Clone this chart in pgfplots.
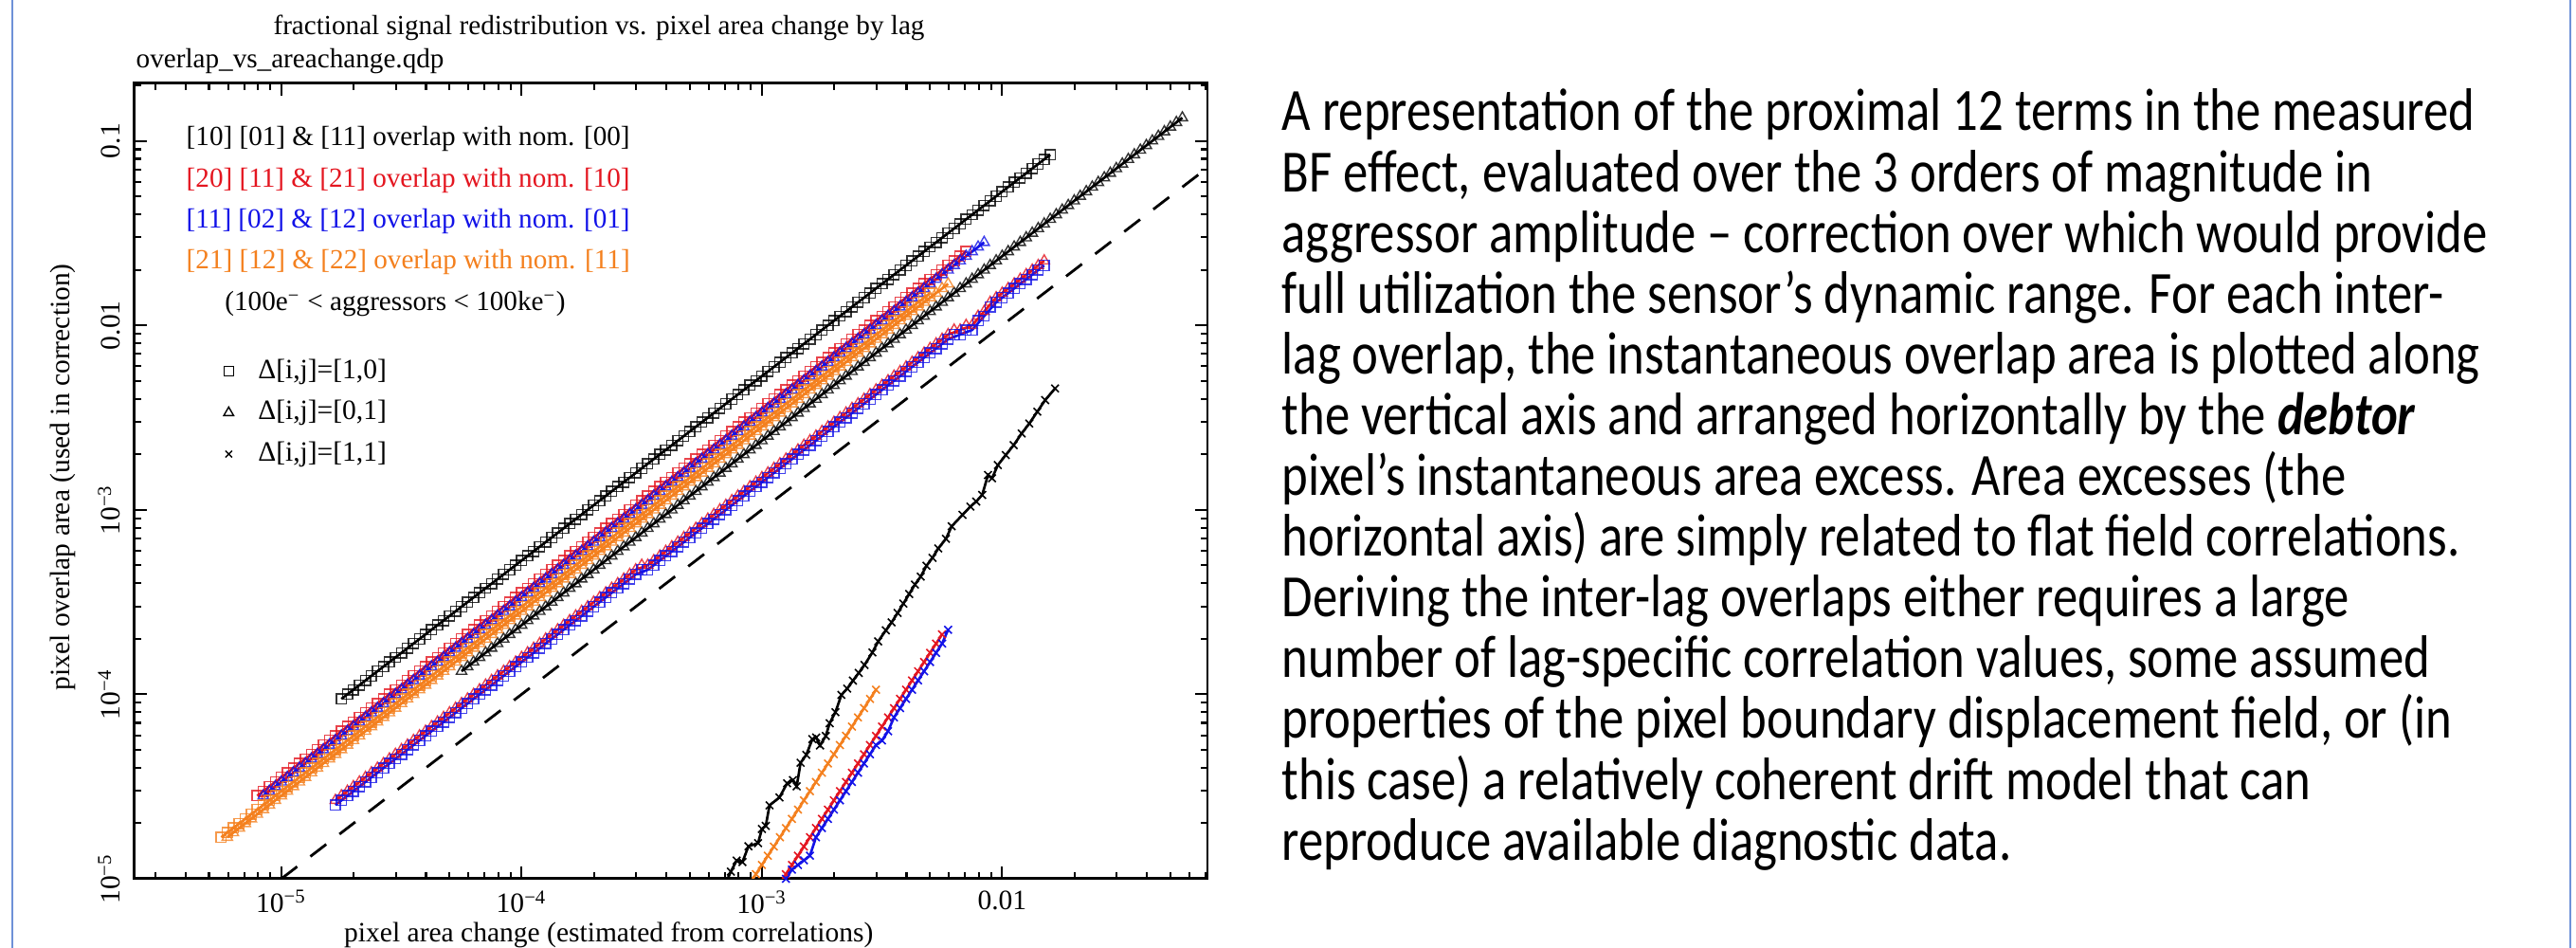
\documentclass[border=0pt]{standalone}
\usepackage{fontspec}
\setmainfont{Liberation Serif}
\newfontfamily\calibri{Carlito}
\usepackage{pgfplots}
\pgfplotsset{compat=1.18}
\definecolor{qred}{RGB}{228,22,32}
\definecolor{qblue}{RGB}{18,18,232}
\definecolor{qorange}{RGB}{244,128,30}
\definecolor{frameblue}{RGB}{110,145,215}
\pgfplotsset{
 sq/.style={line width=0.75pt, mark=square, mark size=1.5pt, mark options={solid, line width=0.4pt, opacity=0.8}},
 tri/.style={line width=0.75pt, mark=triangle, mark size=1.8pt, mark options={solid, line width=0.4pt, opacity=0.8}},
 crs/.style={line width=0.75pt, mark=x, mark size=1.6pt, mark options={solid, line width=0.45pt}},
}
\newcommand{\rt}[1]{\scalebox{1}[1.2]{#1}}
\begin{document}
\begin{tikzpicture}
\fill[white] (0,0) rectangle (27.18cm,10cm);
\path[use as bounding box] (0,0) rectangle (27.18cm,10cm);
\draw[frameblue, line width=0.6pt] (0.13cm,0) -- (0.13cm,10cm);
\draw[frameblue, line width=0.6pt] (27.12cm,0) -- (27.12cm,10cm);
\begin{axis}[
 at={(1.42cm,0.73cm)}, anchor=south west, scale only axis, width=11.32cm, height=8.39cm,
 xmode=log, ymode=log, xmin=2.45e-6, xmax=0.0715, ymin=1e-5, ymax=0.205,
 axis line style={line width=0.85pt},
 every tick/.style={black, line width=0.6pt},
 tick align=inside, tick pos=both,
 major tick length=3.6pt, minor tick length=1.9pt,
 xtick={1e-5,1e-4,1e-3,1e-2},
 xticklabels={10\textsuperscript{−5},10\textsuperscript{−4},10\textsuperscript{−3},0.01},
 minor xtick={3e-6,4e-6,5e-6,6e-6,7e-6,8e-6,9e-6,2e-5,3e-5,4e-5,5e-5,6e-5,7e-5,8e-5,9e-5,2e-4,3e-4,4e-4,5e-4,6e-4,7e-4,8e-4,9e-4,2e-3,3e-3,4e-3,5e-3,6e-3,7e-3,8e-3,9e-3,2e-2,3e-2,4e-2,5e-2,6e-2,7e-2},
 ytick={1e-5,1e-4,1e-3,1e-2,1e-1},
 yticklabels={10\textsuperscript{−5},10\textsuperscript{−4},10\textsuperscript{−3},0.01,0.1},
 minor ytick={2e-5,3e-5,4e-5,5e-5,6e-5,7e-5,8e-5,9e-5,2e-4,3e-4,4e-4,5e-4,6e-4,7e-4,8e-4,9e-4,2e-3,3e-3,4e-3,5e-3,6e-3,7e-3,8e-3,9e-3,2e-2,3e-2,4e-2,5e-2,6e-2,7e-2,8e-2,9e-2,0.2},
 tick label style={font=\fontsize{8.4pt}{9pt}\selectfont},
 yticklabel style={rotate=90, anchor=south, inner sep=0pt},
 yticklabel shift=4pt,
 xlabel={pixel area change (estimated from correlations)},
 ylabel={pixel overlap area (used in correction)},
 label style={font=\fontsize{8.4pt}{9pt}\selectfont},
 xlabel style={at={(axis description cs:0.442,-0.0787)}, anchor=base, inner sep=0pt},
 ylabel style={at={(axis description cs:-0.067,0.505)}, anchor=center, inner sep=0pt},
 legend style={at={(axis description cs:0.06,0.586)}, anchor=west, draw=none, fill=none, inner sep=0pt, row sep=2.1pt, font=\fontsize{8.4pt}{9pt}\selectfont, nodes={inner sep=1.5pt}},
 legend cell align=left,
 legend image code/.code={\path (0cm,0cm) (0.55cm,0cm); \draw[#1] plot coordinates {(0.3cm,0cm)};},
]
\addlegendimage{black, only marks, mark=square, mark size=1.4pt, mark options={line width=0.4pt}}
\addlegendentry{Δ[i,j]=[1,0]}
\addlegendimage{black, only marks, mark=triangle, mark size=1.7pt, mark options={line width=0.4pt}}
\addlegendentry{Δ[i,j]=[0,1]}
\addlegendimage{black, only marks, mark=x, mark size=1.4pt, mark options={line width=0.4pt}}
\addlegendentry{Δ[i,j]=[1,1]}

% dashed 1:1 line
\addplot[forget plot, black, line width=0.8pt, dash pattern=on 6pt off 5pt] coordinates {(1e-5,1e-5) (0.0715,0.0715)};

% black squares [1,0]
\addplot[forget plot, black, sq] coordinates {(1.778e-5,9.441e-5)(1.995e-5,1.059e-4)(2.239e-5,1.189e-4)(2.512e-5,1.334e-4)(2.818e-5,1.496e-4)(3.162e-5,1.679e-4)(3.548e-5,1.884e-4)(3.981e-5,2.113e-4)(4.467e-5,2.371e-4)(5.012e-5,2.661e-4)(5.623e-5,2.985e-4)(6.310e-5,3.350e-4)(7.079e-5,3.758e-4)(7.943e-5,4.217e-4)(8.913e-5,4.732e-4)(1.000e-4,5.309e-4)(1.122e-4,5.957e-4)(1.259e-4,6.683e-4)(1.413e-4,7.499e-4)(1.585e-4,8.414e-4)(1.778e-4,9.441e-4)(1.995e-4,1.059e-3)(2.239e-4,1.189e-3)(2.512e-4,1.334e-3)(2.818e-4,1.496e-3)(3.162e-4,1.679e-3)(3.548e-4,1.884e-3)(3.981e-4,2.113e-3)(4.467e-4,2.371e-3)(5.012e-4,2.661e-3)(5.623e-4,2.985e-3)(6.310e-4,3.350e-3)(7.079e-4,3.758e-3)(7.943e-4,4.217e-3)(8.913e-4,4.732e-3)(1.000e-3,5.309e-3)(1.122e-3,5.957e-3)(1.259e-3,6.683e-3)(1.413e-3,7.499e-3)(1.585e-3,8.414e-3)(1.778e-3,9.441e-3)(1.995e-3,1.059e-2)(2.239e-3,1.189e-2)(2.512e-3,1.334e-2)(2.818e-3,1.496e-2)(3.162e-3,1.679e-2)(3.548e-3,1.884e-2)(3.981e-3,2.113e-2)(4.467e-3,2.371e-2)(5.012e-3,2.661e-2)(5.623e-3,2.985e-2)(6.310e-3,3.350e-2)(7.079e-3,3.758e-2)(7.943e-3,4.217e-2)(8.913e-3,4.732e-2)(1.000e-2,5.309e-2)(1.122e-2,5.957e-2)(1.259e-2,6.683e-2)(1.413e-2,7.499e-2)(1.585e-2,8.414e-2)};
\addplot[forget plot, black, sq, only marks] coordinates {(1.884e-5,1.000e-4)(2.113e-5,1.122e-4)(2.371e-5,1.259e-4)(2.661e-5,1.413e-4)(2.985e-5,1.585e-4)(3.350e-5,1.778e-4)(3.758e-5,1.995e-4)(4.217e-5,2.239e-4)(4.732e-5,2.512e-4)(5.309e-5,2.818e-4)(5.957e-5,3.162e-4)(6.683e-5,3.548e-4)(7.499e-5,3.981e-4)(8.414e-5,4.467e-4)(9.441e-5,5.012e-4)(1.059e-4,5.623e-4)(1.189e-4,6.310e-4)(1.334e-4,7.079e-4)(1.496e-4,7.943e-4)(1.679e-4,8.913e-4)(1.884e-4,1.000e-3)(2.113e-4,1.122e-3)(2.371e-4,1.259e-3)(2.661e-4,1.413e-3)(2.985e-4,1.585e-3)(3.350e-4,1.778e-3)(3.758e-4,1.995e-3)(4.217e-4,2.239e-3)(4.732e-4,2.512e-3)(5.309e-4,2.818e-3)(5.957e-4,3.162e-3)(6.683e-4,3.548e-3)(7.499e-4,3.981e-3)(8.414e-4,4.467e-3)(9.441e-4,5.012e-3)(1.059e-3,5.623e-3)(1.189e-3,6.310e-3)(1.334e-3,7.079e-3)(1.496e-3,7.943e-3)(1.679e-3,8.913e-3)(1.884e-3,1.000e-2)(2.113e-3,1.122e-2)(2.371e-3,1.259e-2)(2.661e-3,1.413e-2)(2.985e-3,1.585e-2)(3.350e-3,1.778e-2)(3.758e-3,1.995e-2)(4.217e-3,2.239e-2)(4.732e-3,2.512e-2)(5.309e-3,2.818e-2)(5.957e-3,3.162e-2)(6.683e-3,3.548e-2)(7.499e-3,3.981e-2)(8.414e-3,4.467e-2)(9.441e-3,5.012e-2)(1.059e-2,5.623e-2)(1.189e-2,6.310e-2)(1.334e-2,7.079e-2)(1.496e-2,7.943e-2)};

% black triangles [0,1]
\addplot[forget plot, black, tri] coordinates {(5.623e-5,1.334e-4)(6.310e-5,1.496e-4)(7.079e-5,1.679e-4)(7.943e-5,1.884e-4)(8.913e-5,2.113e-4)(1.000e-4,2.371e-4)(1.122e-4,2.661e-4)(1.259e-4,2.985e-4)(1.413e-4,3.350e-4)(1.585e-4,3.758e-4)(1.778e-4,4.217e-4)(1.995e-4,4.732e-4)(2.239e-4,5.309e-4)(2.512e-4,5.957e-4)(2.818e-4,6.683e-4)(3.162e-4,7.499e-4)(3.548e-4,8.414e-4)(3.981e-4,9.441e-4)(4.467e-4,1.059e-3)(5.012e-4,1.189e-3)(5.623e-4,1.334e-3)(6.310e-4,1.496e-3)(7.079e-4,1.679e-3)(7.943e-4,1.884e-3)(8.913e-4,2.113e-3)(1.000e-3,2.371e-3)(1.122e-3,2.661e-3)(1.259e-3,2.985e-3)(1.413e-3,3.350e-3)(1.585e-3,3.758e-3)(1.778e-3,4.217e-3)(1.995e-3,4.732e-3)(2.239e-3,5.309e-3)(2.512e-3,5.957e-3)(2.818e-3,6.683e-3)(3.162e-3,7.499e-3)(3.548e-3,8.414e-3)(3.981e-3,9.441e-3)(4.467e-3,1.059e-2)(5.012e-3,1.189e-2)(5.623e-3,1.334e-2)(6.310e-3,1.496e-2)(7.079e-3,1.679e-2)(7.943e-3,1.884e-2)(8.913e-3,2.113e-2)(1.000e-2,2.371e-2)(1.122e-2,2.661e-2)(1.259e-2,2.985e-2)(1.413e-2,3.350e-2)(1.585e-2,3.758e-2)(1.778e-2,4.217e-2)(1.995e-2,4.732e-2)(2.239e-2,5.309e-2)(2.512e-2,5.957e-2)(2.818e-2,6.683e-2)(3.162e-2,7.499e-2)(3.548e-2,8.414e-2)(3.981e-2,9.441e-2)(4.467e-2,1.059e-1)(5.012e-2,1.189e-1)(5.623e-2,1.334e-1)};
\addplot[forget plot, black, tri, only marks] coordinates {(5.957e-5,1.413e-4)(6.683e-5,1.585e-4)(7.499e-5,1.778e-4)(8.414e-5,1.995e-4)(9.441e-5,2.239e-4)(1.059e-4,2.512e-4)(1.189e-4,2.818e-4)(1.334e-4,3.162e-4)(1.496e-4,3.548e-4)(1.679e-4,3.981e-4)(1.884e-4,4.467e-4)(2.113e-4,5.012e-4)(2.371e-4,5.623e-4)(2.661e-4,6.310e-4)(2.985e-4,7.079e-4)(3.350e-4,7.943e-4)(3.758e-4,8.913e-4)(4.217e-4,1.000e-3)(4.732e-4,1.122e-3)(5.309e-4,1.259e-3)(5.957e-4,1.413e-3)(6.683e-4,1.585e-3)(7.499e-4,1.778e-3)(8.414e-4,1.995e-3)(9.441e-4,2.239e-3)(1.059e-3,2.512e-3)(1.189e-3,2.818e-3)(1.334e-3,3.162e-3)(1.496e-3,3.548e-3)(1.679e-3,3.981e-3)(1.884e-3,4.467e-3)(2.113e-3,5.012e-3)(2.371e-3,5.623e-3)(2.661e-3,6.310e-3)(2.985e-3,7.079e-3)(3.350e-3,7.943e-3)(3.758e-3,8.913e-3)(4.217e-3,1.000e-2)(4.732e-3,1.122e-2)(5.309e-3,1.259e-2)(5.957e-3,1.413e-2)(6.683e-3,1.585e-2)(7.499e-3,1.778e-2)(8.414e-3,1.995e-2)(9.441e-3,2.239e-2)(1.059e-2,2.512e-2)(1.189e-2,2.818e-2)(1.334e-2,3.162e-2)(1.496e-2,3.548e-2)(1.679e-2,3.981e-2)(1.884e-2,4.467e-2)(2.113e-2,5.012e-2)(2.371e-2,5.623e-2)(2.661e-2,6.310e-2)(2.985e-2,7.079e-2)(3.350e-2,7.943e-2)(3.758e-2,8.913e-2)(4.217e-2,1.000e-1)(4.732e-2,1.122e-1)(5.309e-2,1.259e-1)};

% black crosses [1,1]
\addplot[forget plot, black, crs] coordinates {(6.918e-4,8.913e-6)(7.430e-4,1.094e-5)(7.852e-4,1.256e-5)(8.299e-4,1.233e-5)(8.791e-4,1.500e-5)(9.639e-4,1.560e-5)(1.000e-3,1.862e-5)(1.038e-3,1.936e-5)(1.076e-3,2.500e-5)(1.183e-3,2.761e-5)(1.274e-3,3.296e-5)(1.346e-3,3.428e-5)(1.396e-3,3.170e-5)(1.449e-3,4.256e-5)(1.531e-3,4.699e-5)(1.622e-3,5.715e-5)(1.683e-3,5.834e-5)(1.746e-3,5.284e-5)(1.845e-3,5.943e-5)(1.914e-3,6.966e-5)(2.023e-3,7.998e-5)(2.143e-3,9.931e-5)(2.265e-3,1.074e-4)(2.393e-3,1.186e-4)(2.529e-3,1.306e-4)(2.673e-3,1.442e-4)(2.884e-3,1.687e-4)(3.048e-3,1.936e-4)(3.281e-3,2.223e-4)(3.467e-3,2.455e-4)(3.673e-3,2.761e-4)(3.882e-3,3.105e-4)(4.102e-3,3.499e-4)(4.335e-3,3.936e-4)(4.581e-3,4.345e-4)(4.842e-3,4.977e-4)(5.129e-3,5.495e-4)(5.420e-3,6.180e-4)(5.834e-3,6.966e-4)(6.166e-3,8.147e-4)(6.839e-3,9.397e-4)(7.379e-3,1.042e-3)(7.798e-3,1.109e-3)(8.260e-3,1.205e-3)(8.730e-3,1.545e-3)(9.078e-3,1.483e-3)(9.594e-3,1.750e-3)(1.035e-2,1.982e-3)(1.117e-2,2.244e-3)(1.205e-2,2.594e-3)(1.297e-2,2.938e-3)(1.400e-2,3.404e-3)(1.510e-2,3.936e-3)(1.660e-2,4.550e-3)};

% red squares [1,0] (upper band)
\addplot[forget plot, qred, sq] coordinates {(7.943e-6,2.818e-5)(8.913e-6,3.162e-5)(1.000e-5,3.548e-5)(1.122e-5,3.981e-5)(1.259e-5,4.467e-5)(1.413e-5,5.012e-5)(1.585e-5,5.623e-5)(1.778e-5,6.310e-5)(1.995e-5,7.079e-5)(2.239e-5,7.943e-5)(2.512e-5,8.913e-5)(2.818e-5,1.000e-4)(3.162e-5,1.122e-4)(3.548e-5,1.259e-4)(3.981e-5,1.413e-4)(4.467e-5,1.585e-4)(5.012e-5,1.778e-4)(5.623e-5,1.995e-4)(6.310e-5,2.239e-4)(7.079e-5,2.512e-4)(7.943e-5,2.818e-4)(8.913e-5,3.162e-4)(1.000e-4,3.548e-4)(1.122e-4,3.981e-4)(1.259e-4,4.467e-4)(1.413e-4,5.012e-4)(1.585e-4,5.623e-4)(1.778e-4,6.310e-4)(1.995e-4,7.079e-4)(2.239e-4,7.943e-4)(2.512e-4,8.913e-4)(2.818e-4,1.000e-3)(3.162e-4,1.122e-3)(3.548e-4,1.259e-3)(3.981e-4,1.413e-3)(4.467e-4,1.585e-3)(5.012e-4,1.778e-3)(5.623e-4,1.995e-3)(6.310e-4,2.239e-3)(7.079e-4,2.512e-3)(7.943e-4,2.818e-3)(8.913e-4,3.162e-3)(1.000e-3,3.548e-3)(1.122e-3,3.981e-3)(1.259e-3,4.467e-3)(1.413e-3,5.012e-3)(1.585e-3,5.623e-3)(1.778e-3,6.310e-3)(1.995e-3,7.079e-3)(2.239e-3,7.943e-3)(2.512e-3,8.913e-3)(2.818e-3,1.000e-2)(3.162e-3,1.122e-2)(3.548e-3,1.259e-2)(3.981e-3,1.413e-2)(4.467e-3,1.585e-2)(5.012e-3,1.778e-2)(5.623e-3,1.995e-2)(6.310e-3,2.239e-2)(7.079e-3,2.512e-2)};
\addplot[forget plot, qred, sq, only marks] coordinates {(8.414e-6,2.985e-5)(9.441e-6,3.350e-5)(1.059e-5,3.758e-5)(1.189e-5,4.217e-5)(1.334e-5,4.732e-5)(1.496e-5,5.309e-5)(1.679e-5,5.957e-5)(1.884e-5,6.683e-5)(2.113e-5,7.499e-5)(2.371e-5,8.414e-5)(2.661e-5,9.441e-5)(2.985e-5,1.059e-4)(3.350e-5,1.189e-4)(3.758e-5,1.334e-4)(4.217e-5,1.496e-4)(4.732e-5,1.679e-4)(5.309e-5,1.884e-4)(5.957e-5,2.113e-4)(6.683e-5,2.371e-4)(7.499e-5,2.661e-4)(8.414e-5,2.985e-4)(9.441e-5,3.350e-4)(1.059e-4,3.758e-4)(1.189e-4,4.217e-4)(1.334e-4,4.732e-4)(1.496e-4,5.309e-4)(1.679e-4,5.957e-4)(1.884e-4,6.683e-4)(2.113e-4,7.499e-4)(2.371e-4,8.414e-4)(2.661e-4,9.441e-4)(2.985e-4,1.059e-3)(3.350e-4,1.189e-3)(3.758e-4,1.334e-3)(4.217e-4,1.496e-3)(4.732e-4,1.679e-3)(5.309e-4,1.884e-3)(5.957e-4,2.113e-3)(6.683e-4,2.371e-3)(7.499e-4,2.661e-3)(8.414e-4,2.985e-3)(9.441e-4,3.350e-3)(1.059e-3,3.758e-3)(1.189e-3,4.217e-3)(1.334e-3,4.732e-3)(1.496e-3,5.309e-3)(1.679e-3,5.957e-3)(1.884e-3,6.683e-3)(2.113e-3,7.499e-3)(2.371e-3,8.414e-3)(2.661e-3,9.441e-3)(2.985e-3,1.059e-2)(3.350e-3,1.189e-2)(3.758e-3,1.334e-2)(4.217e-3,1.496e-2)(4.732e-3,1.679e-2)(5.309e-3,1.884e-2)(5.957e-3,2.113e-2)(6.683e-3,2.371e-2)};

% blue triangles [0,1] (upper band)
\addplot[forget plot, qblue, tri] coordinates {(8.414e-6,2.818e-5)(9.441e-6,3.162e-5)(1.059e-5,3.548e-5)(1.189e-5,3.981e-5)(1.334e-5,4.467e-5)(1.496e-5,5.012e-5)(1.679e-5,5.623e-5)(1.884e-5,6.310e-5)(2.113e-5,7.079e-5)(2.371e-5,7.943e-5)(2.661e-5,8.913e-5)(2.985e-5,1.000e-4)(3.350e-5,1.122e-4)(3.758e-5,1.259e-4)(4.217e-5,1.413e-4)(4.732e-5,1.585e-4)(5.309e-5,1.778e-4)(5.957e-5,1.995e-4)(6.683e-5,2.239e-4)(7.499e-5,2.512e-4)(8.414e-5,2.818e-4)(9.441e-5,3.162e-4)(1.059e-4,3.548e-4)(1.189e-4,3.981e-4)(1.334e-4,4.467e-4)(1.496e-4,5.012e-4)(1.679e-4,5.623e-4)(1.884e-4,6.310e-4)(2.113e-4,7.079e-4)(2.371e-4,7.943e-4)(2.661e-4,8.913e-4)(2.985e-4,1.000e-3)(3.350e-4,1.122e-3)(3.758e-4,1.259e-3)(4.217e-4,1.413e-3)(4.732e-4,1.585e-3)(5.309e-4,1.778e-3)(5.957e-4,1.995e-3)(6.683e-4,2.239e-3)(7.499e-4,2.512e-3)(8.414e-4,2.818e-3)(9.441e-4,3.162e-3)(1.059e-3,3.548e-3)(1.189e-3,3.981e-3)(1.334e-3,4.467e-3)(1.496e-3,5.012e-3)(1.679e-3,5.623e-3)(1.884e-3,6.310e-3)(2.113e-3,7.079e-3)(2.371e-3,7.943e-3)(2.661e-3,8.913e-3)(2.985e-3,1.000e-2)(3.350e-3,1.122e-2)(3.758e-3,1.259e-2)(4.217e-3,1.413e-2)(4.732e-3,1.585e-2)(5.309e-3,1.778e-2)(5.957e-3,1.995e-2)(6.683e-3,2.239e-2)(7.499e-3,2.512e-2)(8.414e-3,2.818e-2)};
\addplot[forget plot, qblue, tri, only marks] coordinates {(8.913e-6,2.985e-5)(1.000e-5,3.350e-5)(1.122e-5,3.758e-5)(1.259e-5,4.217e-5)(1.413e-5,4.732e-5)(1.585e-5,5.309e-5)(1.778e-5,5.957e-5)(1.995e-5,6.683e-5)(2.239e-5,7.499e-5)(2.512e-5,8.414e-5)(2.818e-5,9.441e-5)(3.162e-5,1.059e-4)(3.548e-5,1.189e-4)(3.981e-5,1.334e-4)(4.467e-5,1.496e-4)(5.012e-5,1.679e-4)(5.623e-5,1.884e-4)(6.310e-5,2.113e-4)(7.079e-5,2.371e-4)(7.943e-5,2.661e-4)(8.913e-5,2.985e-4)(1.000e-4,3.350e-4)(1.122e-4,3.758e-4)(1.259e-4,4.217e-4)(1.413e-4,4.732e-4)(1.585e-4,5.309e-4)(1.778e-4,5.957e-4)(1.995e-4,6.683e-4)(2.239e-4,7.499e-4)(2.512e-4,8.414e-4)(2.818e-4,9.441e-4)(3.162e-4,1.059e-3)(3.548e-4,1.189e-3)(3.981e-4,1.334e-3)(4.467e-4,1.496e-3)(5.012e-4,1.679e-3)(5.623e-4,1.884e-3)(6.310e-4,2.113e-3)(7.079e-4,2.371e-3)(7.943e-4,2.661e-3)(8.913e-4,2.985e-3)(1.000e-3,3.350e-3)(1.122e-3,3.758e-3)(1.259e-3,4.217e-3)(1.413e-3,4.732e-3)(1.585e-3,5.309e-3)(1.778e-3,5.957e-3)(1.995e-3,6.683e-3)(2.239e-3,7.499e-3)(2.512e-3,8.414e-3)(2.818e-3,9.441e-3)(3.162e-3,1.059e-2)(3.548e-3,1.189e-2)(3.981e-3,1.334e-2)(4.467e-3,1.496e-2)(5.012e-3,1.679e-2)(5.623e-3,1.884e-2)(6.310e-3,2.113e-2)(7.079e-3,2.371e-2)(7.943e-3,2.661e-2)};

% red triangles [0,1] (lower band)
\addplot[forget plot, qred, tri] coordinates {(1.679e-5,2.661e-5)(1.884e-5,2.985e-5)(2.113e-5,3.350e-5)(2.371e-5,3.758e-5)(2.661e-5,4.217e-5)(2.985e-5,4.732e-5)(3.350e-5,5.309e-5)(3.758e-5,5.957e-5)(4.217e-5,6.683e-5)(4.732e-5,7.499e-5)(5.309e-5,8.414e-5)(5.957e-5,9.441e-5)(6.683e-5,1.059e-4)(7.499e-5,1.189e-4)(8.414e-5,1.334e-4)(9.441e-5,1.496e-4)(1.059e-4,1.679e-4)(1.189e-4,1.884e-4)(1.334e-4,2.113e-4)(1.496e-4,2.371e-4)(1.679e-4,2.661e-4)(1.884e-4,2.985e-4)(2.113e-4,3.350e-4)(2.371e-4,3.758e-4)(2.661e-4,4.217e-4)(2.985e-4,4.732e-4)(3.350e-4,5.012e-4)(3.758e-4,5.623e-4)(4.217e-4,6.310e-4)(4.732e-4,7.079e-4)(5.309e-4,7.943e-4)(5.957e-4,8.913e-4)(6.683e-4,1.000e-3)(7.499e-4,1.122e-3)(8.414e-4,1.259e-3)(9.441e-4,1.413e-3)(1.059e-3,1.585e-3)(1.189e-3,1.778e-3)(1.334e-3,1.995e-3)(1.496e-3,2.239e-3)(1.679e-3,2.512e-3)(1.884e-3,2.818e-3)(2.113e-3,3.162e-3)(2.371e-3,3.548e-3)(2.661e-3,3.981e-3)(2.985e-3,4.467e-3)(3.350e-3,5.012e-3)(3.758e-3,5.623e-3)(4.217e-3,6.310e-3)(4.732e-3,7.079e-3)(5.309e-3,7.943e-3)(5.957e-3,8.913e-3)(6.683e-3,9.441e-3)(7.499e-3,1.000e-2)(8.414e-3,1.189e-2)(9.441e-3,1.413e-2)(1.059e-2,1.585e-2)(1.189e-2,1.778e-2)(1.334e-2,1.995e-2)(1.496e-2,2.239e-2)};
\addplot[forget plot, qred, tri, only marks] coordinates {(1.778e-5,2.818e-5)(1.995e-5,3.162e-5)(2.239e-5,3.548e-5)(2.512e-5,3.981e-5)(2.818e-5,4.467e-5)(3.162e-5,5.012e-5)(3.548e-5,5.623e-5)(3.981e-5,6.310e-5)(4.467e-5,7.079e-5)(5.012e-5,7.943e-5)(5.623e-5,8.913e-5)(6.310e-5,1.000e-4)(7.079e-5,1.122e-4)(7.943e-5,1.259e-4)(8.913e-5,1.413e-4)(1.000e-4,1.585e-4)(1.122e-4,1.778e-4)(1.259e-4,1.995e-4)(1.413e-4,2.239e-4)(1.585e-4,2.512e-4)(1.778e-4,2.818e-4)(1.995e-4,3.162e-4)(2.239e-4,3.548e-4)(2.512e-4,3.981e-4)(2.818e-4,4.467e-4)(3.162e-4,5.012e-4)(3.548e-4,5.309e-4)(3.981e-4,5.957e-4)(4.467e-4,6.683e-4)(5.012e-4,7.499e-4)(5.623e-4,8.414e-4)(6.310e-4,9.441e-4)(7.079e-4,1.059e-3)(7.943e-4,1.189e-3)(8.913e-4,1.334e-3)(1.000e-3,1.496e-3)(1.122e-3,1.679e-3)(1.259e-3,1.884e-3)(1.413e-3,2.113e-3)(1.585e-3,2.371e-3)(1.778e-3,2.661e-3)(1.995e-3,2.985e-3)(2.239e-3,3.350e-3)(2.512e-3,3.758e-3)(2.818e-3,4.217e-3)(3.162e-3,4.732e-3)(3.548e-3,5.309e-3)(3.981e-3,5.957e-3)(4.467e-3,6.683e-3)(5.012e-3,7.499e-3)(5.623e-3,8.414e-3)(6.310e-3,9.441e-3)(7.079e-3,1.000e-2)(7.943e-3,1.122e-2)(8.913e-3,1.334e-2)(1.000e-2,1.496e-2)(1.122e-2,1.679e-2)(1.259e-2,1.884e-2)(1.413e-2,2.113e-2)};

% blue squares [1,0] (lower band)
\addplot[forget plot, qblue, sq] coordinates {(1.679e-5,2.512e-5)(1.884e-5,2.818e-5)(2.113e-5,3.162e-5)(2.371e-5,3.548e-5)(2.661e-5,3.981e-5)(2.985e-5,4.467e-5)(3.350e-5,5.012e-5)(3.758e-5,5.623e-5)(4.217e-5,6.310e-5)(4.732e-5,7.079e-5)(5.309e-5,7.943e-5)(5.957e-5,8.913e-5)(6.683e-5,1.000e-4)(7.499e-5,1.122e-4)(8.414e-5,1.259e-4)(9.441e-5,1.413e-4)(1.059e-4,1.585e-4)(1.189e-4,1.778e-4)(1.334e-4,1.995e-4)(1.496e-4,2.239e-4)(1.679e-4,2.512e-4)(1.884e-4,2.818e-4)(2.113e-4,3.162e-4)(2.371e-4,3.548e-4)(2.661e-4,3.981e-4)(2.985e-4,4.467e-4)(3.350e-4,4.732e-4)(3.758e-4,5.309e-4)(4.217e-4,5.957e-4)(4.732e-4,6.683e-4)(5.309e-4,7.499e-4)(5.957e-4,8.414e-4)(6.683e-4,9.441e-4)(7.499e-4,1.059e-3)(8.414e-4,1.189e-3)(9.441e-4,1.334e-3)(1.059e-3,1.496e-3)(1.189e-3,1.679e-3)(1.334e-3,1.884e-3)(1.496e-3,2.113e-3)(1.679e-3,2.371e-3)(1.884e-3,2.661e-3)(2.113e-3,2.985e-3)(2.371e-3,3.350e-3)(2.661e-3,3.758e-3)(2.985e-3,4.217e-3)(3.350e-3,4.732e-3)(3.758e-3,5.309e-3)(4.217e-3,5.957e-3)(4.732e-3,6.683e-3)(5.309e-3,7.499e-3)(5.957e-3,8.414e-3)(6.683e-3,8.913e-3)(7.499e-3,9.441e-3)(8.414e-3,1.122e-2)(9.441e-3,1.334e-2)(1.059e-2,1.496e-2)(1.189e-2,1.679e-2)(1.334e-2,1.884e-2)(1.496e-2,2.113e-2)};
\addplot[forget plot, qblue, sq, only marks] coordinates {(1.778e-5,2.661e-5)(1.995e-5,2.985e-5)(2.239e-5,3.350e-5)(2.512e-5,3.758e-5)(2.818e-5,4.217e-5)(3.162e-5,4.732e-5)(3.548e-5,5.309e-5)(3.981e-5,5.957e-5)(4.467e-5,6.683e-5)(5.012e-5,7.499e-5)(5.623e-5,8.414e-5)(6.310e-5,9.441e-5)(7.079e-5,1.059e-4)(7.943e-5,1.189e-4)(8.913e-5,1.334e-4)(1.000e-4,1.496e-4)(1.122e-4,1.679e-4)(1.259e-4,1.884e-4)(1.413e-4,2.113e-4)(1.585e-4,2.371e-4)(1.778e-4,2.661e-4)(1.995e-4,2.985e-4)(2.239e-4,3.350e-4)(2.512e-4,3.758e-4)(2.818e-4,4.217e-4)(3.162e-4,4.732e-4)(3.548e-4,5.012e-4)(3.981e-4,5.623e-4)(4.467e-4,6.310e-4)(5.012e-4,7.079e-4)(5.623e-4,7.943e-4)(6.310e-4,8.913e-4)(7.079e-4,1.000e-3)(7.943e-4,1.122e-3)(8.913e-4,1.259e-3)(1.000e-3,1.413e-3)(1.122e-3,1.585e-3)(1.259e-3,1.778e-3)(1.413e-3,1.995e-3)(1.585e-3,2.239e-3)(1.778e-3,2.512e-3)(1.995e-3,2.818e-3)(2.239e-3,3.162e-3)(2.512e-3,3.548e-3)(2.818e-3,3.981e-3)(3.162e-3,4.467e-3)(3.548e-3,5.012e-3)(3.981e-3,5.623e-3)(4.467e-3,6.310e-3)(5.012e-3,7.079e-3)(5.623e-3,7.943e-3)(6.310e-3,8.913e-3)(7.079e-3,9.441e-3)(7.943e-3,1.059e-2)(8.913e-3,1.259e-2)(1.000e-2,1.413e-2)(1.122e-2,1.585e-2)(1.259e-2,1.778e-2)(1.413e-2,1.995e-2)};

% red crosses [1,1]
\addplot[forget plot, qred, crs] coordinates {(1.189e-3,9.441e-6)(1.259e-3,1.059e-5)(1.334e-3,1.189e-5)(1.413e-3,1.334e-5)(1.496e-3,1.496e-5)(1.585e-3,1.679e-5)(1.679e-3,1.884e-5)(1.778e-3,2.113e-5)(1.884e-3,2.371e-5)(1.995e-3,2.661e-5)(2.113e-3,2.985e-5)(2.239e-3,3.350e-5)(2.371e-3,3.758e-5)(2.512e-3,4.217e-5)(2.661e-3,4.732e-5)(2.818e-3,5.309e-5)(2.985e-3,5.957e-5)(3.162e-3,6.683e-5)(3.350e-3,7.499e-5)(3.548e-3,8.414e-5)(3.758e-3,9.441e-5)(3.981e-3,1.059e-4)(4.217e-3,1.189e-4)(4.467e-3,1.334e-4)(4.732e-3,1.496e-4)(5.012e-3,1.679e-4)(5.309e-3,1.884e-4)(5.623e-3,2.113e-4)};

% blue crosses [1,1]
\addplot[forget plot, qblue, crs] coordinates {(1.259e-3,1.000e-5)(1.334e-3,1.122e-5)(1.413e-3,1.189e-5)(1.496e-3,1.259e-5)(1.585e-3,1.334e-5)(1.679e-3,1.679e-5)(1.778e-3,1.884e-5)(1.884e-3,2.113e-5)(1.995e-3,2.371e-5)(2.113e-3,2.661e-5)(2.239e-3,2.985e-5)(2.371e-3,3.350e-5)(2.512e-3,3.758e-5)(2.661e-3,4.217e-5)(2.818e-3,4.732e-5)(2.985e-3,5.309e-5)(3.162e-3,5.623e-5)(3.350e-3,6.310e-5)(3.548e-3,7.499e-5)(3.758e-3,8.414e-5)(3.981e-3,9.441e-5)(4.217e-3,1.059e-4)(4.467e-3,1.189e-4)(4.732e-3,1.334e-4)(5.012e-3,1.496e-4)(5.309e-3,1.679e-4)(5.623e-3,1.884e-4)(5.957e-3,2.239e-4)};

% orange squares [1,0]
\addplot[forget plot, qorange, sq] coordinates {(5.623e-6,1.679e-5)(6.310e-6,1.884e-5)(7.079e-6,2.113e-5)(7.943e-6,2.371e-5)(8.913e-6,2.661e-5)(1.000e-5,2.985e-5)(1.122e-5,3.350e-5)(1.259e-5,3.758e-5)(1.413e-5,4.217e-5)(1.585e-5,4.732e-5)(1.778e-5,5.309e-5)(1.995e-5,5.957e-5)(2.239e-5,6.683e-5)(2.512e-5,7.499e-5)(2.818e-5,8.414e-5)(3.162e-5,9.441e-5)(3.548e-5,1.059e-4)(3.981e-5,1.189e-4)(4.467e-5,1.334e-4)(5.012e-5,1.496e-4)(5.623e-5,1.679e-4)(6.310e-5,1.884e-4)(7.079e-5,2.113e-4)(7.943e-5,2.371e-4)(8.913e-5,2.661e-4)(1.000e-4,2.985e-4)(1.122e-4,3.350e-4)(1.259e-4,3.758e-4)(1.413e-4,4.217e-4)(1.585e-4,4.732e-4)(1.778e-4,5.309e-4)(1.995e-4,5.957e-4)(2.239e-4,6.683e-4)(2.512e-4,7.499e-4)(2.818e-4,8.414e-4)(3.162e-4,9.441e-4)(3.548e-4,1.059e-3)(3.981e-4,1.189e-3)(4.467e-4,1.334e-3)(5.012e-4,1.496e-3)(5.623e-4,1.679e-3)(6.310e-4,1.884e-3)(7.079e-4,2.113e-3)(7.943e-4,2.371e-3)(8.913e-4,2.661e-3)(1.000e-3,2.985e-3)(1.122e-3,3.350e-3)(1.259e-3,3.758e-3)(1.413e-3,4.217e-3)(1.585e-3,4.732e-3)(1.778e-3,5.309e-3)(1.995e-3,5.957e-3)(2.239e-3,6.683e-3)(2.512e-3,7.499e-3)(2.818e-3,8.414e-3)(3.162e-3,9.441e-3)(3.548e-3,1.059e-2)(3.981e-3,1.189e-2)(4.467e-3,1.334e-2)(5.012e-3,1.496e-2)};
\addplot[forget plot, qorange, sq, only marks] coordinates {(5.957e-6,1.778e-5)(6.683e-6,1.995e-5)(7.499e-6,2.239e-5)(8.414e-6,2.512e-5)(9.441e-6,2.818e-5)(1.059e-5,3.162e-5)(1.189e-5,3.548e-5)(1.334e-5,3.981e-5)(1.496e-5,4.467e-5)(1.679e-5,5.012e-5)(1.884e-5,5.623e-5)(2.113e-5,6.310e-5)(2.371e-5,7.079e-5)(2.661e-5,7.943e-5)(2.985e-5,8.913e-5)(3.350e-5,1.000e-4)(3.758e-5,1.122e-4)(4.217e-5,1.259e-4)(4.732e-5,1.413e-4)(5.309e-5,1.585e-4)(5.957e-5,1.778e-4)(6.683e-5,1.995e-4)(7.499e-5,2.239e-4)(8.414e-5,2.512e-4)(9.441e-5,2.818e-4)(1.059e-4,3.162e-4)(1.189e-4,3.548e-4)(1.334e-4,3.981e-4)(1.496e-4,4.467e-4)(1.679e-4,5.012e-4)(1.884e-4,5.623e-4)(2.113e-4,6.310e-4)(2.371e-4,7.079e-4)(2.661e-4,7.943e-4)(2.985e-4,8.913e-4)(3.350e-4,1.000e-3)(3.758e-4,1.122e-3)(4.217e-4,1.259e-3)(4.732e-4,1.413e-3)(5.309e-4,1.585e-3)(5.957e-4,1.778e-3)(6.683e-4,1.995e-3)(7.499e-4,2.239e-3)(8.414e-4,2.512e-3)(9.441e-4,2.818e-3)(1.059e-3,3.162e-3)(1.189e-3,3.548e-3)(1.334e-3,3.981e-3)(1.496e-3,4.467e-3)(1.679e-3,5.012e-3)(1.884e-3,5.623e-3)(2.113e-3,6.310e-3)(2.371e-3,7.079e-3)(2.661e-3,7.943e-3)(2.985e-3,8.913e-3)(3.350e-3,1.000e-2)(3.758e-3,1.122e-2)(4.217e-3,1.259e-2)(4.732e-3,1.413e-2)};

% orange triangles [0,1]
\addplot[forget plot, qorange, tri] coordinates {(5.957e-6,1.679e-5)(6.683e-6,1.884e-5)(7.499e-6,2.113e-5)(8.414e-6,2.371e-5)(9.441e-6,2.661e-5)(1.059e-5,2.985e-5)(1.189e-5,3.350e-5)(1.334e-5,3.758e-5)(1.496e-5,4.217e-5)(1.679e-5,4.732e-5)(1.884e-5,5.309e-5)(2.113e-5,5.957e-5)(2.371e-5,6.683e-5)(2.661e-5,7.499e-5)(2.985e-5,8.414e-5)(3.350e-5,9.441e-5)(3.758e-5,1.059e-4)(4.217e-5,1.189e-4)(4.732e-5,1.334e-4)(5.309e-5,1.496e-4)(5.957e-5,1.679e-4)(6.683e-5,1.884e-4)(7.499e-5,2.113e-4)(8.414e-5,2.371e-4)(9.441e-5,2.661e-4)(1.059e-4,2.985e-4)(1.189e-4,3.350e-4)(1.334e-4,3.758e-4)(1.496e-4,4.217e-4)(1.679e-4,4.732e-4)(1.884e-4,5.309e-4)(2.113e-4,5.957e-4)(2.371e-4,6.683e-4)(2.661e-4,7.499e-4)(2.985e-4,8.414e-4)(3.350e-4,9.441e-4)(3.758e-4,1.059e-3)(4.217e-4,1.189e-3)(4.732e-4,1.334e-3)(5.309e-4,1.496e-3)(5.957e-4,1.679e-3)(6.683e-4,1.884e-3)(7.499e-4,2.113e-3)(8.414e-4,2.371e-3)(9.441e-4,2.661e-3)(1.059e-3,2.985e-3)(1.189e-3,3.350e-3)(1.334e-3,3.758e-3)(1.496e-3,4.217e-3)(1.679e-3,4.732e-3)(1.884e-3,5.309e-3)(2.113e-3,5.957e-3)(2.371e-3,6.683e-3)(2.661e-3,7.499e-3)(2.985e-3,8.414e-3)(3.350e-3,9.441e-3)(3.758e-3,1.059e-2)(4.217e-3,1.189e-2)(4.732e-3,1.334e-2)(5.309e-3,1.496e-2)(5.957e-3,1.679e-2)};
\addplot[forget plot, qorange, tri, only marks] coordinates {(6.310e-6,1.778e-5)(7.079e-6,1.995e-5)(7.943e-6,2.239e-5)(8.913e-6,2.512e-5)(1.000e-5,2.818e-5)(1.122e-5,3.162e-5)(1.259e-5,3.548e-5)(1.413e-5,3.981e-5)(1.585e-5,4.467e-5)(1.778e-5,5.012e-5)(1.995e-5,5.623e-5)(2.239e-5,6.310e-5)(2.512e-5,7.079e-5)(2.818e-5,7.943e-5)(3.162e-5,8.913e-5)(3.548e-5,1.000e-4)(3.981e-5,1.122e-4)(4.467e-5,1.259e-4)(5.012e-5,1.413e-4)(5.623e-5,1.585e-4)(6.310e-5,1.778e-4)(7.079e-5,1.995e-4)(7.943e-5,2.239e-4)(8.913e-5,2.512e-4)(1.000e-4,2.818e-4)(1.122e-4,3.162e-4)(1.259e-4,3.548e-4)(1.413e-4,3.981e-4)(1.585e-4,4.467e-4)(1.778e-4,5.012e-4)(1.995e-4,5.623e-4)(2.239e-4,6.310e-4)(2.512e-4,7.079e-4)(2.818e-4,7.943e-4)(3.162e-4,8.913e-4)(3.548e-4,1.000e-3)(3.981e-4,1.122e-3)(4.467e-4,1.259e-3)(5.012e-4,1.413e-3)(5.623e-4,1.585e-3)(6.310e-4,1.778e-3)(7.079e-4,1.995e-3)(7.943e-4,2.239e-3)(8.913e-4,2.512e-3)(1.000e-3,2.818e-3)(1.122e-3,3.162e-3)(1.259e-3,3.548e-3)(1.413e-3,3.981e-3)(1.585e-3,4.467e-3)(1.778e-3,5.012e-3)(1.995e-3,5.623e-3)(2.239e-3,6.310e-3)(2.512e-3,7.079e-3)(2.818e-3,7.943e-3)(3.162e-3,8.913e-3)(3.548e-3,1.000e-2)(3.981e-3,1.122e-2)(4.467e-3,1.259e-2)(5.012e-3,1.413e-2)(5.623e-3,1.585e-2)};

% orange crosses [1,1]
\addplot[forget plot, qorange, crs] coordinates {(8.913e-4,9.441e-6)(9.441e-4,1.059e-5)(1.000e-3,1.189e-5)(1.059e-3,1.334e-5)(1.122e-3,1.496e-5)(1.189e-3,1.679e-5)(1.259e-3,1.884e-5)(1.334e-3,2.113e-5)(1.413e-3,2.371e-5)(1.496e-3,2.661e-5)(1.585e-3,2.985e-5)(1.679e-3,3.350e-5)(1.778e-3,3.758e-5)(1.884e-3,4.217e-5)(1.995e-3,4.732e-5)(2.113e-3,5.309e-5)(2.239e-3,5.957e-5)(2.371e-3,6.683e-5)(2.512e-3,7.499e-5)(2.661e-3,8.414e-5)(2.818e-3,9.441e-5)(2.985e-3,1.059e-4)};
\end{axis}

% titles
\node[anchor=base, inner sep=0pt, font=\fontsize{8.3pt}{9pt}\selectfont] at (6.32cm,9.635cm) {fractional signal redistribution vs. pixel area change by lag};
\node[anchor=base west, inner sep=0pt, font=\fontsize{8.3pt}{9pt}\selectfont] at (1.43cm,9.28cm) {overlap\_vs\_areachange.qdp};

% coloured key
\begin{scope}[every node/.style={anchor=base west, inner sep=0pt, font=\fontsize{8.3pt}{9pt}\selectfont}]
\node[text=black] at (1.96cm,8.46cm) {[10] [01] \& [11] overlap with nom. [00]};
\node[text=qred] at (1.96cm,8.02cm) {[20] [11] \& [21] overlap with nom. [10]};
\node[text=qblue] at (1.96cm,7.59cm) {[11] [02] \& [12] overlap with nom. [01]};
\node[text=qorange] at (1.96cm,7.16cm) {[21] [12] \& [22] overlap with nom. [11]};
\node[anchor=base] at (4.17cm,6.72cm) {(100e\textsuperscript{−} < aggressors < 100ke\textsuperscript{−})};
\end{scope}

% right-hand text
\begin{scope}[every node/.style={anchor=base west, inner sep=0pt, font=\calibri\fontsize{15.0pt}{18pt}\selectfont}]
\node at (13.52cm,8.620cm) {\rt{A representation of the proximal 12 terms in the measured}};
\node at (13.52cm,7.979cm) {\rt{BF effect, evaluated over the 3 orders of magnitude in}};
\node at (13.52cm,7.338cm) {\rt{aggressor amplitude – correction over which would provide}};
\node at (13.52cm,6.697cm) {\rt{full utilization the sensor’s dynamic range. For each inter-}};
\node at (13.52cm,6.056cm) {\rt{lag overlap, the instantaneous overlap area is plotted along}};
\node at (13.52cm,5.415cm) {\rt{the vertical axis and arranged horizontally by the \textbf{\textit{debtor}}}};
\node at (13.52cm,4.774cm) {\rt{pixel’s instantaneous area excess. Area excesses (the}};
\node at (13.52cm,4.133cm) {\rt{horizontal axis) are simply related to flat field correlations.}};
\node at (13.52cm,3.492cm) {\rt{Deriving the inter-lag overlaps either requires a large}};
\node at (13.52cm,2.851cm) {\rt{number of lag-specific correlation values, some assumed}};
\node at (13.52cm,2.210cm) {\rt{properties of the pixel boundary displacement field, or (in}};
\node at (13.52cm,1.569cm) {\rt{this case) a relatively coherent drift model that can}};
\node at (13.52cm,0.928cm) {\rt{reproduce available diagnostic data.}};
\end{scope}
\end{tikzpicture}
\end{document}
